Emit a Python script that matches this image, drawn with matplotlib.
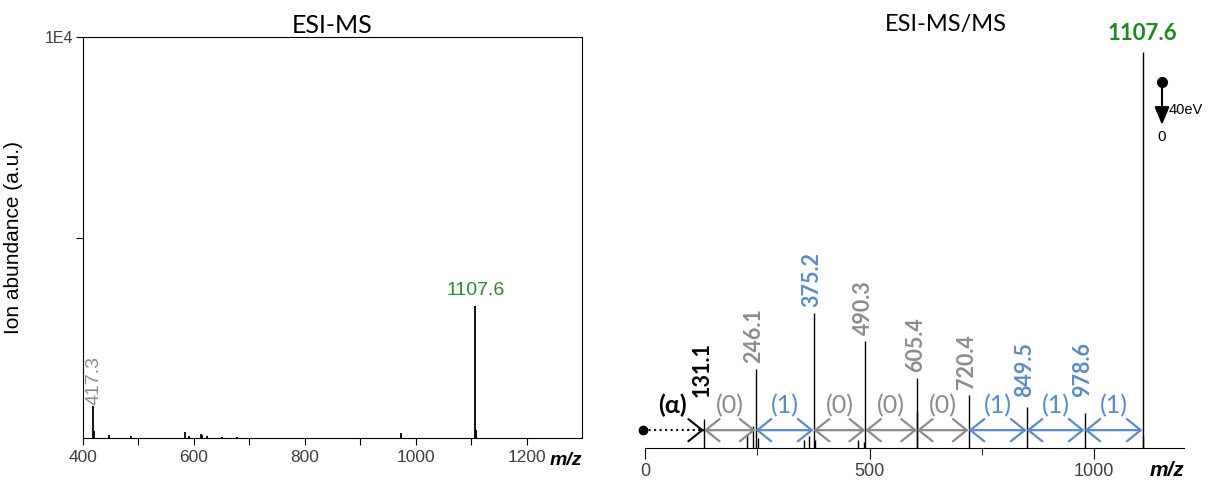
import matplotlib
matplotlib.use("Agg")
from matplotlib import pyplot as plt

plt.rcParams['font.family'] = ['Liberation Sans', 'DejaVu Sans']

# ---- ESI-MS (left) data ----
ms_mz = [417.3, 419.5, 446, 487, 584, 591, 612, 615, 623, 650, 677, 973, 1107.6, 1108.8]
ms_int = [800, 170, 80, 40, 150, 40, 90, 70, 60, 30, 30, 125, 3300, 200]
ms_labels = [(417.3, "417.3"), (1107.6, "1107.6")]

# ---- ESI-MS/MS (right) data ----
msms_mz = [131.1, 246.1, 375.2, 490.3, 605.4, 720.4, 849.5, 978.6, 1107.6]
msms_int = [7.3, 20, 34, 27, 17.7, 13.4, 10.4, 8.8, 100]
msms_names = ["131.1", "246.1", "375.2", "490.3", "605.4", "720.4", "849.5", "978.6", "1107.6"]
msms_kind = ["k", "g", "b", "g", "g", "g", "b", "b", "green"]
minor_mz = [228, 240, 251, 355, 366, 378, 475, 487, 606, 1109]
minor_int = [3.5, 5.5, 2.5, 2.0, 3.0, 2.0, 2.0, 1.5, 9.0, 3.0]
step_labels = ["(0)", "(1)", "(0)", "(0)", "(0)", "(1)", "(1)", "(1)"]

GRAY = "#8c8c8c"
BLUE = "#5b8cc8"
GREEN = "#2a8a2a"
colors = {"k": "black", "g": GRAY, "b": BLUE, "green": "#1e8a1e"}

fig = plt.figure(figsize=(12.14, 4.8), dpi=100)

# ---------------- left panel ----------------
ax1 = fig.add_axes([0.0684, 0.0875, 0.411, 0.835])
ax1.vlines(ms_mz, 0, ms_int, color="black", lw=1.3)
ax1.set_xlim(400, 1300)
ax1.set_ylim(0, 10000)
ax1.set_xticks([400, 600, 800, 1000, 1200])
ax1.set_xticks([500, 700, 900, 1100], minor=True)
ax1.set_yticks([5000, 10000])
ax1.set_yticklabels(["", "1E4"])
ax1.tick_params(axis="both", which="both", direction="out", length=5, width=0.8,
                labelcolor="#404040")
ax1.tick_params(axis="x", labelsize=12.5)
ax1.tick_params(axis="y", labelsize=11.5, pad=2)
ax1.set_ylabel("Ion abundance (a.u.)", fontsize=15, labelpad=16)
ax1.text(0.5, 1.03, "ESI-MS", transform=ax1.transAxes, ha="center", va="center",
         fontsize=18, family="Lato")
ax1.text(420, 820, ms_labels[0][1], rotation=90, ha="center", va="bottom",
         color=GRAY, fontsize=14)
ax1.text(ms_labels[1][0], 3480, ms_labels[1][1], ha="center", va="bottom",
         color=GREEN, fontsize=14)
ax1.text(1.0, -0.035, "m/z", transform=ax1.transAxes, fontsize=14,
         fontweight="bold", fontstyle="italic", va="top", ha="right")

# ---------------- right panel ----------------
ax2 = fig.add_axes([0.5313, 0.0667, 0.444, 0.9075])
ax2.vlines(msms_mz, 0, msms_int, color="black", lw=1.0)
ax2.vlines(minor_mz, 0, minor_int, color="black", lw=1.0)
ax2.set_xlim(0, 1200)
ax2.set_ylim(0, 110)
for s in ["top", "right", "left"]:
    ax2.spines[s].set_visible(False)
ax2.set_yticks([])
ax2.set_xticks([0, 500, 1000])
ax2.set_xticks([250, 750], minor=True)
ax2.tick_params(axis="x", which="major", direction="out", length=8, labelsize=13,
                labelcolor="#404040", pad=3)
ax2.tick_params(axis="x", which="minor", direction="out", length=5)
ax2.text(1.0, -0.03, "m/z", transform=ax2.transAxes, fontsize=15,
         fontweight="bold", fontstyle="italic", va="top", ha="right")
fig.text(0.779, 0.95, "ESI-MS/MS", ha="center", va="center", fontsize=17,
         family="Lato")

# peak labels
for mz, h, name, k in zip(msms_mz, msms_int, msms_names, msms_kind):
    if k == "green":
        ax2.text(mz, 104.7, name, ha="center", va="center", color=colors[k],
                 fontsize=16, fontweight="bold", family="Lato")
    else:
        ax2.text(mz - 4, max(h + 1.5, 13), name, rotation=90, ha="center",
                 va="bottom", color=colors[k], fontsize=15.5, fontweight="bold",
                 family="Lato")

# step arrows
arrow_y = 4.5
for i, lab in enumerate(step_labels):
    x0, x1 = msms_mz[i], msms_mz[i + 1]
    c = BLUE if lab == "(1)" else GRAY
    ax2.annotate("", xy=(x1, arrow_y), xytext=(x0, arrow_y),
                 arrowprops=dict(arrowstyle="<->,head_length=0.5,head_width=0.4",
                                 color=c, lw=1.6, mutation_scale=20,
                                 shrinkA=0, shrinkB=0))
    ax2.text((x0 + x1) / 2, 10.8, lab, ha="center", va="center", color=c,
             fontsize=18, family="Lato")

# alpha starting arrow
ax2.plot([-4], [arrow_y], "o", color="black", ms=6, clip_on=False)
ax2.plot([-4, msms_mz[0] - 2], [arrow_y, arrow_y], ":", color="black", lw=1.5,
         clip_on=False)
ax2.annotate("", xy=(msms_mz[0], arrow_y), xytext=(msms_mz[0] - 2, arrow_y),
             arrowprops=dict(arrowstyle="->,head_length=0.5,head_width=0.4",
                             color="black", lw=1.5, mutation_scale=20,
                             shrinkA=0, shrinkB=0))
ax2.text(61, 10.8, "(α)", ha="center", va="center", fontsize=18,
         fontweight="bold", family="Lato")

# collision energy inset
ax2.plot([1151], [92.5], "o", color="black", ms=7)
ax2.annotate("", xy=(1151, 81.6), xytext=(1151, 92.5),
             arrowprops=dict(arrowstyle="-|>,head_length=0.6,head_width=0.25",
                             color="black", lw=1.5, mutation_scale=18,
                             shrinkA=0, shrinkB=0))
ax2.text(1166, 85.4, "40eV", ha="left", va="center", fontsize=10.5)
ax2.text(1150, 78.5, "0", ha="center", va="center", fontsize=11)

fig.savefig("out.png", dpi=100)
